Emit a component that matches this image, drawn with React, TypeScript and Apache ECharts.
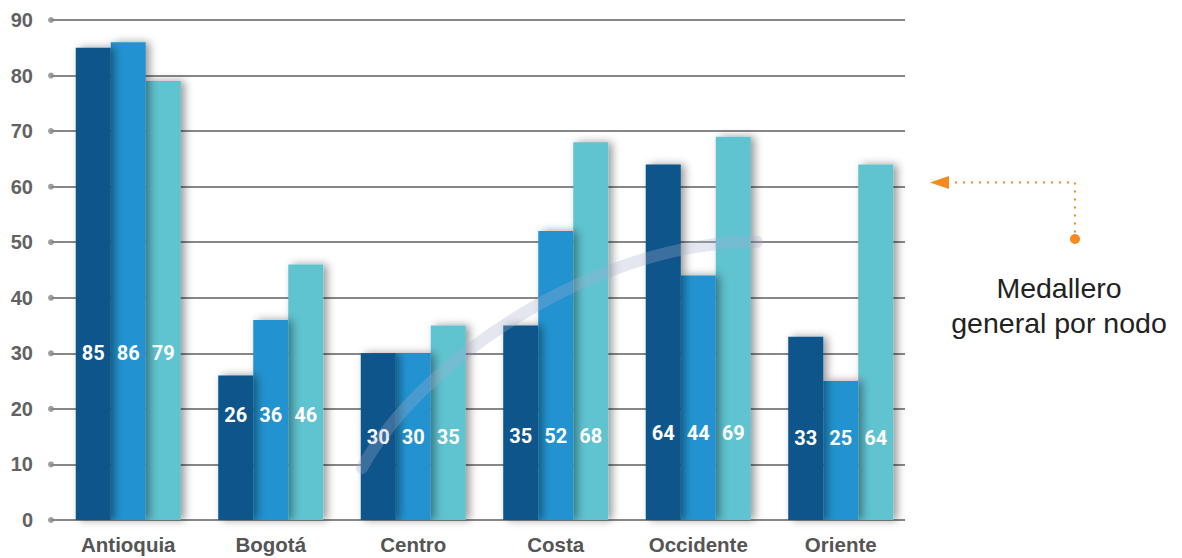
import React, { useEffect, useRef } from "react";
import * as echarts from "echarts";

const categories = ["Antioquia", "Bogotá", "Centro", "Costa", "Occidente", "Oriente"];
const seriesDark = [85, 26, 30, 35, 64, 33];
const seriesMid = [86, 36, 30, 52, 44, 25];
const seriesLight = [79, 46, 35, 68, 69, 64];
const yTicks = [0, 10, 20, 30, 40, 50, 60, 70, 80, 90];
const annotationLines = ["Medallero", "general por nodo"];

// styling: label distance from bar bottom (px) per category
const labelDistance = [157, 95, 73, 74, 77, 72];

const COLORS = ["#08548a", "#2193d0", "#5ec3d0"];

export default function App() {
  const ref = useRef<HTMLDivElement>(null);
  useEffect(() => {
    if (!ref.current) return;
    const chart = echarts.init(ref.current, undefined, { renderer: "svg" });
    const mkBar = (data: number[], color: string, z: number) => ({
      type: "bar",
      xAxisIndex: 1,
      yAxisIndex: 1,
      barWidth: 35,
      barGap: "0%",
      z,
      data: data.map((v, i) => ({ value: v, label: { distance: labelDistance[i] } })),
      itemStyle: {
        color,
        shadowBlur: 8,
        shadowOffsetX: 4,
        shadowOffsetY: 0,
        shadowColor: "rgba(0,0,0,0.4)",
      },
      label: {
        show: true,
        position: "insideBottom",
        color: "#ffffff",
        fontSize: 20,
        fontWeight: "bold",
        fontFamily: "Roboto",
      },
    });
    chart.setOption({
      animation: false,
      backgroundColor: "#ffffff",
      grid: [
        { left: 51, right: 277, top: 20, bottom: 38 },
        { left: 57, right: 270, top: 20, bottom: 38 },
      ],
      xAxis: [
        { gridIndex: 0, type: "value", min: 0, max: 1, show: false },
        {
          gridIndex: 1,
          type: "category",
          data: categories,
          axisLine: { show: false },
          axisTick: { show: false },
          axisLabel: {
            margin: 14,
            fontSize: 20.5,
            fontWeight: "bold",
            color: "#555555",
            fontFamily: "Liberation Sans",
          },
        },
      ],
      yAxis: [
        {
          gridIndex: 0,
          type: "value",
          min: 0,
          max: 90,
          interval: 10,
          axisLine: { show: false },
          axisTick: { show: false },
          axisLabel: {
            margin: 18,
            fontSize: 20,
            fontWeight: "bold",
            color: "#626262",
            fontFamily: "Liberation Sans",
          },
          splitLine: { lineStyle: { color: "#878787", width: 2 } },
        },
        { gridIndex: 1, type: "value", min: 0, max: 90, interval: 10, show: false },
      ],
      series: [
        {
          type: "scatter",
          xAxisIndex: 0,
          yAxisIndex: 0,
          symbolSize: 6,
          clip: false,
          itemStyle: { color: "#878787" },
          data: yTicks.map((t) => [0, t]),
          z: 1,
        },
        mkBar(seriesDark, COLORS[0], 4),
        mkBar(seriesMid, COLORS[1], 3),
        mkBar(seriesLight, COLORS[2], 2),
      ],
      graphic: [
        {
          type: "bezierCurve",
          z: 100,
          silent: true,
          shape: { x1: 362, y1: 468, cpx1: 420, cpy1: 360, cpx2: 600, cpy2: 240, x2: 757, y2: 242 },
          style: { stroke: "rgba(165,172,205,0.3)", lineWidth: 12, fill: null, lineCap: "round" },
        },
        {
          type: "polyline",
          z: 100,
          shape: { points: [[947, 182.5], [1075, 182.5], [1075, 236]] },
          style: { stroke: "#f7891f", lineWidth: 2, lineDash: [2, 6], fill: null },
        },
        {
          type: "polygon",
          z: 100,
          shape: { points: [[930, 182.5], [949, 176], [949, 189]] },
          style: { fill: "#f7891f" },
        },
        {
          type: "circle",
          z: 100,
          shape: { cx: 1075, cy: 239, r: 5 },
          style: { fill: "#f7891f" },
        },
        {
          type: "text",
          z: 100,
          x: 1059,
          y: 305,
          style: {
            text: annotationLines.join("\n"),
            fontSize: 28.5,
            lineHeight: 35,
            fontFamily: "Liberation Sans",
            fill: "#222222",
            align: "center",
            verticalAlign: "middle",
          },
        },
      ],
    });
    return () => chart.dispose();
  }, []);
  return (
    <div
      ref={ref}
      style={{ position: "fixed", left: 0, top: 0, width: 1182, height: 558 }}
    />
  );
}
